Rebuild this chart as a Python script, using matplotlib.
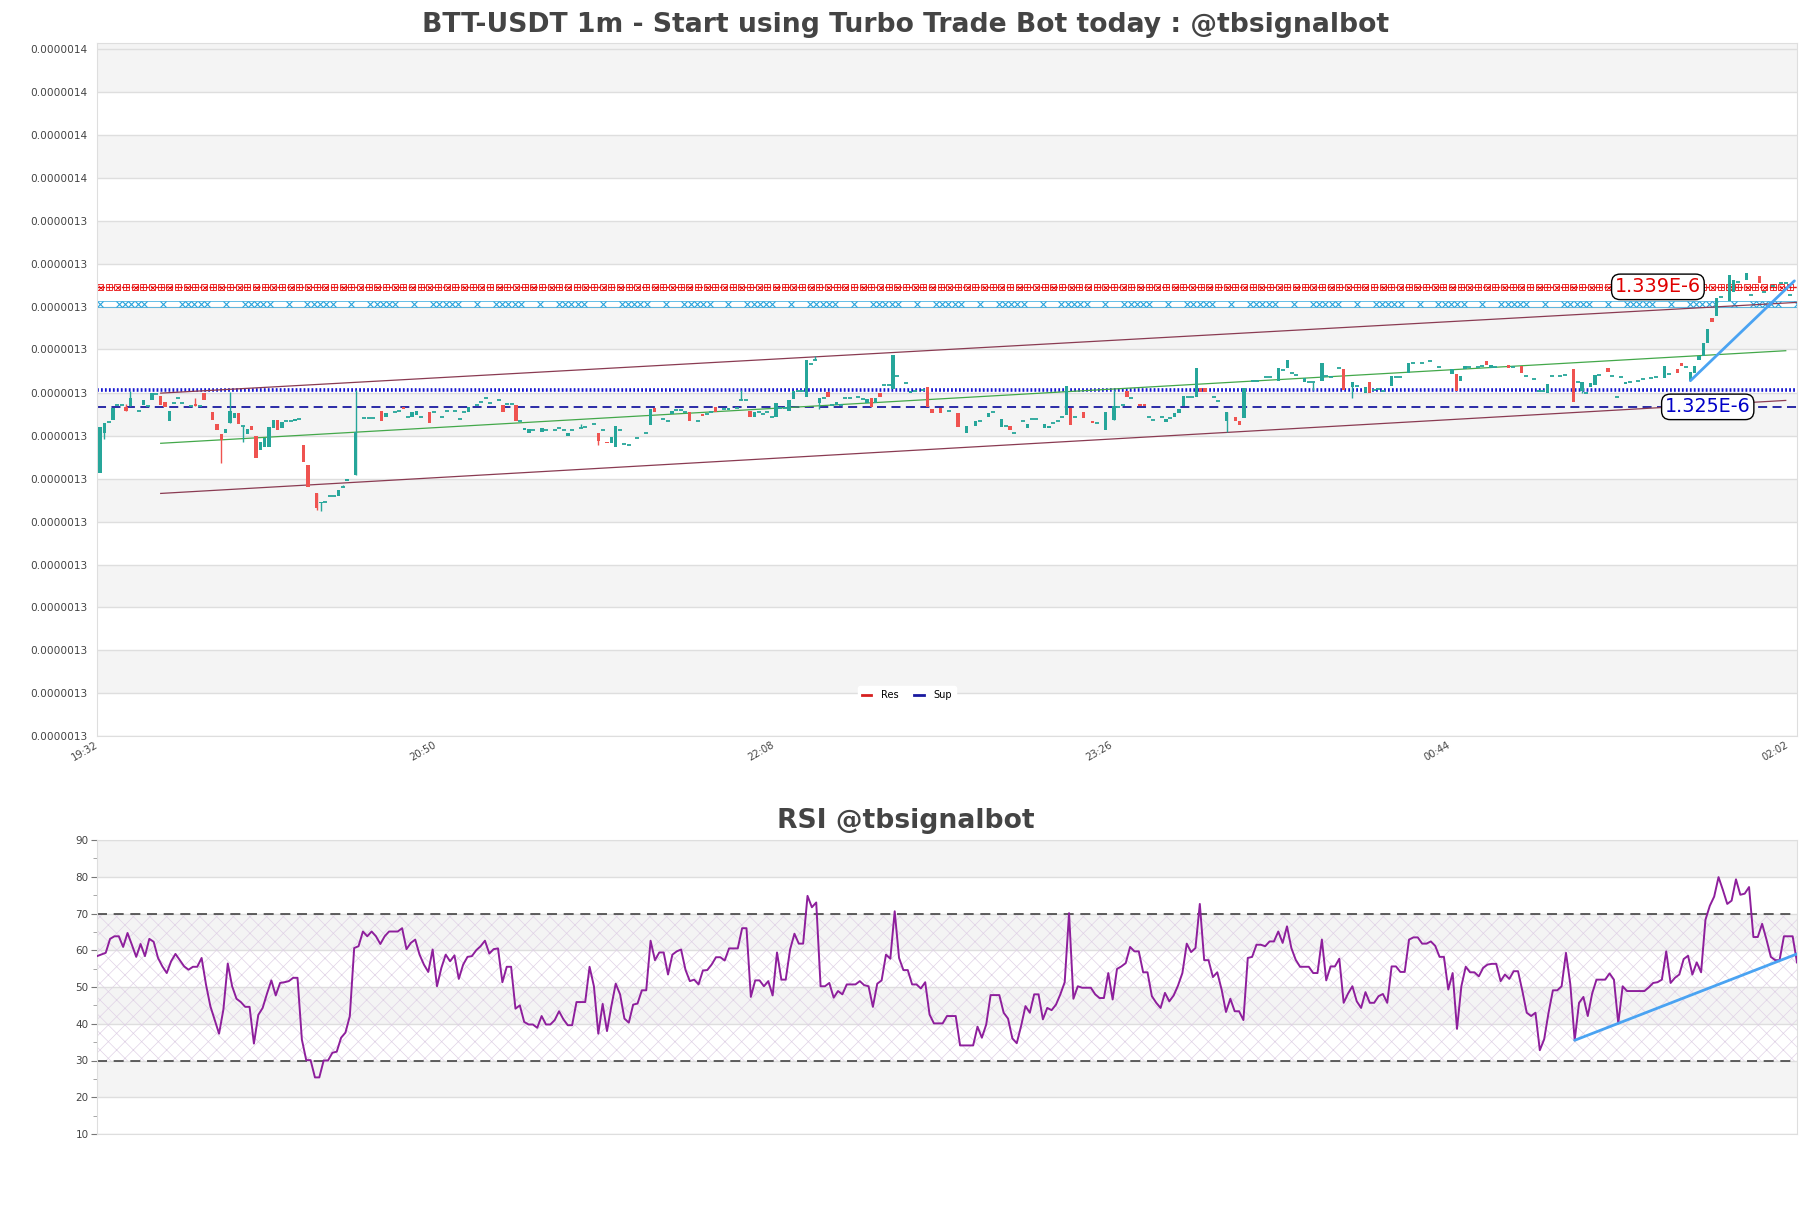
import numpy as np
import matplotlib
matplotlib.use('Agg')
import matplotlib.pyplot as plt
import matplotlib.transforms as mtransforms
from matplotlib.lines import Line2D
from matplotlib.ticker import FuncFormatter, FixedLocator

# prices are kept in 1e-9 USDT (nano) units
# candles: (minute since 19:32, open, close)
candles_1932 = [
    (0, 1317.3, 1322.7), (1, 1322.0, 1323.1), (2, 1323.2, 1323.2), (3, 1323.5, 1324.85),
    (4, 1325.2, 1325.2), (5, 1325.2, 1325.2), (6, 1325.0, 1324.5), (7, 1325.15, 1326.0),
    (9, 1324.55, 1324.55), (10, 1325.25, 1325.8), (11, 1325.05, 1325.05), (12, 1325.8, 1326.6),
    (13, 1326.5, 1326.5), (14, 1326.3, 1325.25), (15, 1325.6, 1324.95), (16, 1323.4, 1324.55),
    (17, 1325.5, 1325.5), (18, 1326.0, 1326.0), (19, 1325.5, 1325.5), (21, 1325.15, 1325.15),
    (22, 1325.35, 1325.15), (23, 1325.15, 1325.15), (24, 1326.6, 1325.75), (26, 1324.45, 1323.5),
    (27, 1323.0, 1322.3), (28, 1321.8, 1321.15), (29, 1321.9, 1322.4), (30, 1323.1, 1324.55),
    (31, 1323.7, 1324.25), (32, 1324.25, 1323.0), (33, 1322.8, 1322.8), (34, 1321.85, 1322.4),
    (35, 1322.8, 1322.3), (36, 1321.55, 1319.0), (37, 1320.0, 1320.85), (38, 1320.35, 1321.35),
    (39, 1320.3, 1322.6), (40, 1322.5, 1323.5), (41, 1323.5, 1322.3), (42, 1322.5, 1323.2),
    (43, 1323.3, 1323.3), (44, 1323.4, 1323.4), (45, 1323.4, 1323.55), (46, 1323.55, 1323.55),
    (47, 1320.55, 1318.6), (48, 1318.2, 1315.7), (50, 1314.9, 1313.2), (51, 1313.75, 1313.95),
    (52, 1313.95, 1313.95), (53, 1314.6, 1314.6), (54, 1314.6, 1314.6), (55, 1314.6, 1315.3),
    (56, 1315.7, 1315.7), (57, 1316.4, 1316.55), (59, 1317.05, 1322.1), (61, 1323.75, 1323.75),
    (62, 1323.75, 1323.75), (63, 1323.75, 1323.75), (65, 1324.55, 1323.3), (66, 1323.8, 1324.25),
    (68, 1324.35, 1324.35), (69, 1324.5, 1324.5), (70, 1324.95, 1324.75), (71, 1323.8, 1323.8),
    (72, 1323.8, 1324.45), (73, 1324.05, 1324.55), (74, 1323.8, 1323.8), (76, 1324.45, 1323.1),
    (77, 1324.45, 1324.45),
]
candles_2050 = [
    (79, 1323.8, 1323.8), (80, 1324.55, 1324.55), (82, 1324.55, 1324.55), (83, 1323.6, 1323.6),
    (84, 1324.45, 1324.45), (85, 1324.35, 1324.95), (87, 1325.25, 1325.25), (88, 1325.55, 1325.55),
    (89, 1326.0, 1326.0), (90, 1325.45, 1325.45), (92, 1325.8, 1325.8), (93, 1325.25, 1324.45),
    (94, 1325.3, 1325.3), (95, 1325.3, 1325.3), (96, 1325.25, 1323.3), (97, 1323.4, 1323.4),
    (98, 1322.3, 1322.5), (99, 1321.9, 1322.4), (100, 1322.25, 1322.25), (102, 1322.1, 1322.5),
    (103, 1322.25, 1322.25), (105, 1322.3, 1322.3), (106, 1322.5, 1322.5), (107, 1322.3, 1322.3),
    (108, 1321.55, 1321.9), (109, 1322.3, 1322.3), (111, 1322.5, 1322.5), (112, 1322.6, 1322.6),
    (114, 1323.0, 1323.0), (115, 1321.9, 1321.05), (116, 1322.25, 1322.25), (117, 1320.95, 1320.75),
    (118, 1320.75, 1321.45), (119, 1320.3, 1322.8), (120, 1322.25, 1322.25), (121, 1320.65, 1320.65),
    (122, 1320.5, 1320.5), (124, 1321.35, 1321.35), (126, 1321.9, 1321.9), (127, 1322.9, 1324.75),
    (128, 1324.9, 1324.35), (130, 1323.55, 1323.55), (131, 1323.35, 1323.35), (132, 1324.15, 1324.55),
    (133, 1324.65, 1324.65), (134, 1324.65, 1324.65), (135, 1324.35, 1324.35), (136, 1324.45, 1323.4),
    (138, 1323.35, 1323.35), (139, 1324.2, 1323.9), (140, 1324.2, 1324.2), (141, 1324.35, 1324.35),
    (142, 1324.95, 1324.45), (144, 1324.75, 1324.75), (145, 1324.65, 1324.85), (147, 1324.85, 1324.85),
    (148, 1325.8, 1325.8), (149, 1325.75, 1325.75), (150, 1324.55, 1323.8), (151, 1323.8, 1324.35),
    (152, 1324.45, 1324.45), (153, 1324.2, 1324.2), (154, 1324.45, 1324.45), (155, 1323.8, 1323.8),
]
candles_2208 = [
    (156, 1323.85, 1325.5), (157, 1324.9, 1324.9), (158, 1324.85, 1324.85), (159, 1324.55, 1325.8),
    (160, 1325.9, 1326.9), (161, 1326.85, 1326.85), (162, 1326.9, 1326.9), (163, 1326.2, 1330.5),
    (164, 1330.0, 1330.0), (165, 1330.5, 1330.5), (166, 1325.45, 1326.0), (167, 1326.0, 1326.0),
    (168, 1326.7, 1326.2), (169, 1325.25, 1325.25), (170, 1325.2, 1325.6), (171, 1325.25, 1325.25),
    (172, 1326.0, 1326.0), (173, 1326.0, 1326.0), (175, 1326.1, 1326.1), (176, 1325.9, 1325.9),
    (177, 1325.5, 1325.9), (178, 1326.0, 1324.95), (179, 1325.5, 1326.0), (180, 1326.65, 1326.15),
    (181, 1327.5, 1327.5), (182, 1327.5, 1327.5), (183, 1327.05, 1331.05), (184, 1328.6, 1328.6),
    (186, 1327.75, 1327.75), (187, 1326.6, 1326.9), (188, 1326.8, 1326.8), (190, 1327.0, 1327.0),
    (191, 1327.35, 1324.95), (192, 1324.75, 1324.25), (194, 1324.85, 1324.25), (196, 1324.55, 1324.55),
    (198, 1324.25, 1322.7), (200, 1322.0, 1322.8), (202, 1322.8, 1323.35), (203, 1323.3, 1323.3),
    (205, 1323.85, 1324.25), (206, 1324.35, 1324.35), (208, 1322.7, 1323.55), (209, 1322.8, 1322.8),
    (210, 1322.8, 1322.3), (211, 1322.0, 1322.0), (213, 1323.3, 1323.3), (214, 1322.5, 1323.0),
    (215, 1323.55, 1323.55), (216, 1323.55, 1323.55), (218, 1322.5, 1323.0), (219, 1322.5, 1322.8),
    (220, 1323.1, 1323.1), (221, 1323.3, 1323.3), (222, 1323.8, 1323.8), (223, 1324.05, 1327.45),
    (224, 1324.85, 1322.9), (225, 1323.8, 1323.8), (227, 1324.45, 1323.7), (229, 1323.4, 1323.15),
    (230, 1323.1, 1323.1), (232, 1322.3, 1324.45),
]
candles_2326 = [
    (234, 1323.5, 1325.05), (235, 1324.95, 1324.95), (236, 1325.25, 1325.25), (237, 1326.8, 1326.1),
    (238, 1326.0, 1326.0), (240, 1325.35, 1325.05), (241, 1325.35, 1325.05), (242, 1323.85, 1323.85),
    (243, 1323.5, 1323.5), (245, 1323.8, 1323.8), (246, 1323.2, 1323.55), (247, 1323.7, 1323.7),
    (248, 1323.85, 1324.25), (249, 1324.25, 1324.75), (250, 1325.05, 1326.3), (251, 1326.2, 1326.2),
    (252, 1326.2, 1326.2), (253, 1326.15, 1329.5), (254, 1327.2, 1326.7), (255, 1327.2, 1326.7),
    (257, 1326.15, 1326.15), (258, 1325.7, 1325.7), (260, 1323.3, 1324.45), (262, 1323.8, 1323.4),
    (263, 1323.3, 1322.9), (264, 1323.7, 1327.2), (266, 1328.05, 1328.05), (267, 1328.05, 1328.05),
    (269, 1328.45, 1328.45), (270, 1328.45, 1328.45), (272, 1328.05, 1329.5), (273, 1329.3, 1329.3),
    (274, 1329.5, 1330.5), (275, 1328.9, 1328.9), (276, 1328.7, 1328.7), (278, 1327.9, 1328.35),
    (279, 1327.85, 1327.85), (280, 1327.85, 1327.85), (282, 1328.05, 1330.1), (283, 1328.6, 1328.6),
    (284, 1328.45, 1328.45), (286, 1329.5, 1329.5), (287, 1329.4, 1327.0), (289, 1327.35, 1327.95),
    (290, 1327.45, 1327.45), (292, 1326.65, 1327.35), (293, 1327.95, 1326.65), (294, 1327.0, 1327.0),
    (295, 1327.05, 1327.05), (296, 1326.9, 1326.9), (298, 1327.45, 1328.6), (299, 1328.45, 1328.45),
    (300, 1328.45, 1328.45), (302, 1328.95, 1330.15), (303, 1330.1, 1330.1), (305, 1330.15, 1330.15),
    (307, 1330.3, 1330.3), (309, 1329.7, 1329.7),
]
candles_0044 = [
    (312, 1328.85, 1329.4), (313, 1328.85, 1326.8), (314, 1328.05, 1328.55), (315, 1329.4, 1329.8),
    (316, 1329.65, 1329.65), (318, 1329.65, 1329.65), (319, 1329.8, 1329.8), (320, 1330.3, 1329.9),
    (321, 1329.5, 1329.9), (322, 1329.65, 1329.65), (325, 1329.9, 1329.5), (326, 1329.7, 1329.7),
    (328, 1329.8, 1328.95), (329, 1328.55, 1328.55), (331, 1328.25, 1328.25), (332, 1326.9, 1326.9),
    (333, 1326.9, 1326.9), (334, 1326.65, 1327.7), (335, 1328.55, 1328.55), (337, 1328.6, 1328.6),
    (338, 1328.75, 1328.75), (340, 1329.4, 1325.6), (341, 1327.95, 1327.95), (342, 1326.8, 1327.85),
    (343, 1326.65, 1326.65), (344, 1327.3, 1327.75), (345, 1327.55, 1328.75), (346, 1328.75, 1328.75),
    (348, 1329.5, 1329.1), (349, 1328.55, 1328.55), (350, 1326.2, 1326.2), (351, 1328.45, 1328.45),
    (352, 1327.7, 1327.95), (353, 1327.95, 1327.95), (355, 1328.05, 1328.05), (356, 1328.25, 1328.25),
    (358, 1328.35, 1328.35), (359, 1328.45, 1328.45), (361, 1328.35, 1329.8), (362, 1328.85, 1328.85),
    (364, 1329.4, 1328.95), (365, 1330.15, 1329.8), (366, 1329.7, 1329.7), (367, 1328.05, 1329.1),
    (368, 1328.95, 1329.8), (369, 1330.5, 1330.9), (370, 1330.9, 1332.5), (371, 1332.5, 1334.05),
    (372, 1335.35, 1334.95), (373, 1335.55, 1337.7), (374, 1337.8, 1337.8), (376, 1337.3, 1340.4),
    (377, 1338.35, 1339.8), (378, 1339.6, 1339.6), (380, 1339.75, 1340.65), (381, 1338.05, 1338.05),
    (383, 1340.3, 1339.5), (384, 1338.35, 1338.35), (386, 1339.1, 1339.1), (388, 1339.45, 1339.45),
    (389, 1339.45, 1339.45), (390, 1338.05, 1338.05),
]
# visible wicks: (minute, low, high)
wicks = [
    (1, 1321.2, 1323.1), (6, 1324.5, 1325.3), (7, 1325.15, 1326.8), (22, 1325.15, 1326.0),
    (28, 1318.4, 1321.8), (30, 1323.1, 1326.7), (33, 1320.95, 1322.8), (50, 1313.0, 1314.9),
    (51, 1312.9, 1313.95), (56, 1315.7, 1315.9), (59, 1317.05, 1327.0), (111, 1322.5, 1323.0),
    (115, 1320.5, 1321.9), (148, 1325.8, 1327.0), (165, 1330.5, 1330.95), (166, 1324.75, 1326.0),
    (234, 1323.5, 1327.0), (260, 1322.1, 1324.45), (280, 1327.0, 1327.85), (289, 1326.0, 1327.95),
    (342, 1326.6, 1327.85),
]

res_levels = [1339, 1337]
sup_levels = [1327, 1325]
channel_upper = [(14, 1326.6), (392, 1337.2)]
channel_mid = [(14, 1320.75), (389, 1331.55)]
channel_lower = [(14, 1314.9), (389, 1325.75)]
price_trend = [(367, 1328.05), (391, 1339.7)]

price_ticks = [1286.6, 1291.6, 1296.6, 1301.6, 1306.6, 1311.6, 1316.6, 1321.6, 1326.6,
               1331.7, 1336.7, 1341.7, 1346.7, 1351.7, 1356.7, 1361.7, 1366.7]
time_ticks = [0, 78, 156, 234, 312, 390]
time_labels = ['19:32', '20:50', '22:08', '23:26', '00:44', '02:02']

# RSI readings, minutes 0..197 (1 and 27 not read)
rsi_minutes_a = [0] + list(range(2, 27)) + list(range(28, 198))
rsi_a = [
    58.4, 59.3, 63.1, 63.8, 63.8, 60.9, 64.7, 61.5, 58.2, 61.7, 58.4, 63.1, 62.3, 57.9, 55.6, 53.8,
    57.0, 59.0, 57.3, 55.6, 54.7, 55.5, 55.5, 57.9, 50.7, 44.8, 37.3, 43.9, 56.4, 50.2, 46.8, 45.9,
    44.6, 44.6, 34.6, 42.4, 44.3, 48.2, 51.8, 47.7, 51.1, 51.3, 51.6, 52.5, 52.5, 35.7, 30.1, 30.1,
    25.4, 25.4, 30.0, 30.0, 32.1, 32.4, 36.2, 37.6, 42.1, 60.6, 61.1, 65.1, 63.8, 65.1, 63.8, 61.7,
    63.8, 65.1, 65.1, 65.1, 66.0, 60.3, 62.0, 62.9, 58.8, 56.1, 54.1, 60.2, 50.2, 55.2, 58.8, 57.0,
    58.6, 52.2, 56.1, 58.2, 58.4, 60.0, 61.1, 62.6, 59.1, 60.3, 60.5, 51.3, 55.5, 55.5, 44.1, 45.0,
    40.5, 39.8, 39.8, 38.9, 42.1, 39.8, 39.8, 41.0, 43.4, 41.2, 39.6, 39.6, 45.9, 45.9, 45.9, 55.5,
    50.2, 37.3, 45.4, 38.0, 44.8, 50.9, 48.0, 41.4, 40.3, 45.2, 45.5, 49.1, 49.1, 62.6, 57.3, 59.4,
    59.4, 53.4, 58.8, 59.7, 60.2, 54.7, 51.6, 52.0, 50.7, 54.5, 54.6, 56.1, 58.1, 58.1, 57.2, 60.5,
    60.5, 60.5, 66.0, 66.0, 47.3, 51.8, 51.8, 50.2, 51.6, 47.7, 59.4, 52.0, 52.0, 60.2, 64.5, 61.8,
    61.8, 74.8, 71.7, 73.0, 50.2, 50.2, 51.1, 47.1, 48.9, 48.0, 50.7, 50.7, 50.7, 51.6, 50.5, 50.2,
    44.6, 50.9, 51.8, 58.8, 57.7, 70.6, 57.9, 54.6, 54.6, 50.7, 50.7, 49.6, 51.3, 42.5, 40.1, 40.1,
    40.1, 42.1, 42.1, 42.1,
]
# RSI readings, one per minute from 198 to 390
rsi_b_start = 198
rsi_b = [
    34.1, 34.1, 34.1, 34.1, 39.2, 36.2, 39.8, 47.8, 47.8, 47.8, 43.0, 41.4, 36.0, 34.7, 39.4, 44.8,
    43.0, 48.0, 48.0, 41.2, 44.3, 43.7, 45.2, 48.0, 51.3, 70.1, 46.8, 50.2, 49.8, 49.8, 49.8, 48.0,
    47.0, 47.0, 53.8, 46.6, 54.9, 55.6, 56.5, 60.9, 59.7, 59.7, 54.0, 54.0, 47.5, 45.7, 44.3, 48.4,
    46.1, 47.7, 50.4, 53.8, 61.8, 59.5, 60.6, 72.6, 57.3, 57.3, 52.7, 54.0, 49.3, 43.2, 46.8, 43.4,
    43.4, 41.0, 57.9, 58.2, 61.5, 61.5, 61.1, 62.4, 62.4, 65.1, 62.0, 66.5, 60.6, 57.4, 55.5, 55.5,
    55.5, 53.8, 53.8, 62.9, 51.8, 55.6, 55.6, 57.7, 45.7, 48.2, 50.2, 46.1, 44.3, 48.6, 45.7, 45.7,
    47.5, 48.1, 45.7, 55.6, 55.6, 54.1, 54.1, 62.9, 63.5, 63.5, 61.8, 61.8, 62.4, 61.2, 58.2, 58.2,
    49.3, 53.8, 38.6, 50.2, 55.5, 54.0, 54.0, 52.9, 55.2, 56.1, 56.3, 56.3, 51.6, 53.4, 52.2, 54.3,
    54.3, 48.9, 43.0, 42.1, 43.0, 32.8, 35.8, 43.0, 49.1, 49.1, 50.2, 59.3, 50.7, 35.5, 45.7, 47.3,
    42.1, 48.2, 52.0, 52.0, 52.0, 53.7, 52.0, 40.1, 50.2, 48.9, 48.9, 48.9, 48.9, 48.9, 49.9, 51.1,
    51.3, 52.0, 59.7, 51.1, 52.5, 53.4, 57.6, 58.5, 53.4, 56.7, 54.0, 68.3, 72.1, 74.6, 79.9, 76.4,
    72.6, 73.5, 79.3, 75.1, 75.4, 77.2, 63.6, 63.6, 67.2, 62.9, 58.2, 57.3, 57.3, 63.8, 63.8, 63.8,
    56.7,
]
rsi_trend = [(339, 35.5), (390, 59.0)]

GREEN = '#26a69a'
RED = '#ef5350'
BAND = '#f4f4f4'
GRID = '#dedede'
TXT = '#444444'

plt.rcParams['hatch.linewidth'] = 0.5

W, H = 1811, 1208
fig = plt.figure(figsize=(W / 100, H / 100), dpi=100)
ax = fig.add_axes([97 / W, 1 - 736 / H, 1700 / W, 693 / H])
ax2 = fig.add_axes([97 / W, 1 - 1134 / H, 1700 / W, 294 / H])

# ---- price panel ----
ymin, ymax = price_ticks[0], 1367.45
ax.set_xlim(-0.7, 391.6)
ax.set_ylim(ymin, ymax)
for j in range(len(price_ticks) - 1):
    if j % 2 == 1:
        ax.axhspan(price_ticks[j], price_ticks[j + 1], color=BAND, lw=0, zorder=0)
ax.axhspan(price_ticks[-1], ymax, color=BAND, lw=0, zorder=0)
for t in price_ticks:
    ax.axhline(t, color=GRID, lw=1, zorder=0.5)

candles = candles_1932 + candles_2050 + candles_2208 + candles_2326 + candles_0044
mins = np.array([c[0] for c in candles], dtype=float)
op = np.array([c[1] for c in candles])
cl = np.array([c[2] for c in candles])
up = cl >= op
body = np.abs(cl - op)
lo = np.minimum(op, cl)
solid = body > 0
for mask, col in [(up & solid, GREEN), (~up & solid, RED)]:
    ax.bar(mins[mask], body[mask], bottom=lo[mask], width=0.8, color=col, lw=0, zorder=3)
doji = ~solid
ax.hlines(cl[doji], mins[doji] - 0.45, mins[doji] + 0.45, color=GREEN, lw=1.3, zorder=3)

color_of = {c[0]: (GREEN if c[2] >= c[1] else RED) for c in candles}
for m, l, h in wicks:
    ax.vlines(m, l, h, color=color_of[m], lw=1, zorder=2.8)

# resistance: red boxed-cross band and cyan x band
xs = np.arange(0, 392)
r1, r2 = res_levels
rc = '#e81010'
ax.axhline(r1, color=rc, lw=1.0, ls=(0, (2, 1.5)), zorder=2)
ax.plot(xs[::2], [r1] * len(xs[::2]), ls='none', marker='s', ms=4.8, mfc='none',
        mec=rc, mew=0.6, zorder=2)
ax.plot(xs[::4], [r1] * len(xs[::4]), ls='none', marker='x', ms=3.6, mec=rc, mew=0.6, zorder=2)
ax.plot(xs[2::4], [r1] * len(xs[2::4]), ls='none', marker='+', ms=4.4, mec=rc, mew=0.6, zorder=2)

cyan = '#2aa4dc'
ax.axhline(r2 + 0.32, color=cyan, lw=0.5, zorder=2)
ax.axhline(r2 - 0.32, color=cyan, lw=0.5, zorder=2)
cx = np.arange(0, 392, 1.45)
sel = cx[(np.round(cx / 1.45) % 10 == 0) | ((np.round(cx / 1.45) % 10 >= 3) & (np.round(cx / 1.45) % 10 <= 7))]
ax.plot(sel, [r2] * len(sel), ls='none', marker='x', ms=4.2, mec=cyan, mew=0.8, zorder=2)

s1, s2 = sup_levels
ax.axhline(s1, color='#1515d0', lw=2.6, ls=(0, (0.5, 0.6)), zorder=2)
ax.axhline(s2, color='#1a1aa0', lw=1.3, ls=(0, (5, 3)), zorder=2)

for line, col in [(channel_upper, '#8a3b52'), (channel_lower, '#8a3b52'), (channel_mid, '#43a84a')]:
    ax.plot([p[0] for p in line], [p[1] for p in line], color=col, lw=0.9, zorder=2.5)
ax.plot([p[0] for p in price_trend], [p[1] for p in price_trend], color='#4aa3f2', lw=2.0,
        zorder=4, solid_capstyle='round')

box = dict(boxstyle='round,pad=0.17,rounding_size=0.45', fc='white', ec='black', lw=1)
ax.text(359.5, r1, f'{r1 / 1000:.3f}E-6', color='#e00000', fontsize=13.8, ha='center',
        va='center', bbox=box, zorder=6)
ax.text(371, s2, f'{s2 / 1000:.3f}E-6', color='#0000c8', fontsize=13.8, ha='center',
        va='center', bbox=box, zorder=6)

ax.yaxis.set_major_locator(FixedLocator(price_ticks))
ax.yaxis.set_major_formatter(FuncFormatter(lambda v, p: f'{v * 1e-9:.7f}'))
ax.set_xticks(time_ticks)
ax.set_xticklabels(time_labels, rotation=30, ha='right')
shift = mtransforms.ScaledTranslation(-6 / 100, 0, fig.dpi_scale_trans)
for lab in ax.get_xticklabels()[1:]:
    lab.set_transform(lab.get_transform() + shift)
ax.tick_params(axis='y', length=0, pad=7, labelsize=7.6, labelcolor=TXT)
ax.tick_params(axis='x', length=0, pad=3, labelsize=7.2, labelcolor=TXT)
for s in ax.spines.values():
    s.set_color(GRID)

handles = [Line2D([], [], color='#d62020', lw=2), Line2D([], [], color='#1a1aa0', lw=2)]
leg = ax.legend(handles, ['Res', 'Sup'], loc='center', bbox_to_anchor=(0.4765, 0.059), ncol=2,
                fontsize=7, handlelength=1.0, handletextpad=1.0, columnspacing=1.6,
                frameon=True, fancybox=True, facecolor='white', edgecolor='white', framealpha=1)
leg.set_zorder(7)

# ---- RSI panel ----
ax2.set_xlim(0, 390)
ax2.set_ylim(10, 90)
for lo_b in [20, 40, 60, 80]:
    ax2.axhspan(lo_b, lo_b + 10, color=BAND, lw=0, zorder=0)
for t in range(10, 91, 10):
    ax2.axhline(t, color=GRID, lw=1, zorder=0.5)
ax2.fill_between([0, 390], 30, 70, facecolor='none', edgecolor='#e0d2e6', hatch='xx', lw=0, zorder=1)
ax2.axhline(70, color='#444444', lw=1.2, ls=(0, (6, 4)), zorder=2)
ax2.axhline(30, color='#444444', lw=1.2, ls=(0, (6, 4)), zorder=2)

rsi_t = rsi_minutes_a + list(range(rsi_b_start, rsi_b_start + len(rsi_b)))
rsi_v = rsi_a + rsi_b
ax2.plot(rsi_t, rsi_v, color='#8e1f9c', lw=1.4, zorder=3)
ax2.plot([p[0] for p in rsi_trend], [p[1] for p in rsi_trend], color='#4aa3f2', lw=2.0, zorder=4,
         solid_capstyle='round')

ax2.set_yticks(range(10, 91, 10))
ax2.set_yticks(range(15, 90, 10), minor=True)
ax2.set_xticks([])
ax2.tick_params(axis='y', which='major', length=4, color='#777777', pad=2, labelsize=7.5,
                labelcolor=TXT)
ax2.tick_params(axis='y', which='minor', length=3, color='#999999')
for s in ax2.spines.values():
    s.set_color(GRID)

fig.text(0.5, 1 - 24.5 / H, 'BTT-USDT 1m - Start using Turbo Trade Bot today : @tbsignalbot',
         ha='center', va='center', fontsize=19.2, fontweight='bold', color=TXT)
fig.text(0.5, 1 - 821.5 / H, 'RSI @tbsignalbot', ha='center', va='center', fontsize=19.2,
         fontweight='bold', color=TXT)

fig.savefig('out.png', dpi=100)
